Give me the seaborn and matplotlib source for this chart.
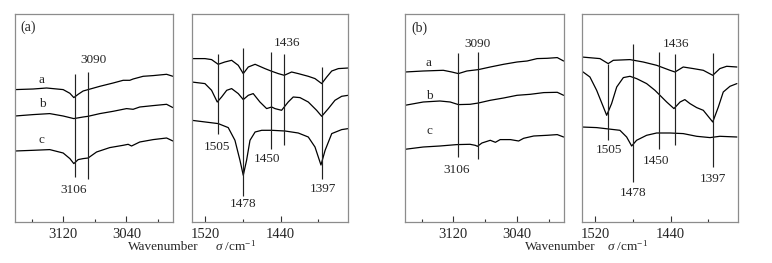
import numpy as np
import pandas as pd
import matplotlib
matplotlib.use("Agg")
import matplotlib.pyplot as plt
from matplotlib.ticker import FixedLocator
import seaborn as sns

sns.set_theme(style="white")
plt.rcParams['font.family'] = ['Liberation Serif', 'DejaVu Serif']
plt.rcParams['mathtext.fontset'] = 'custom'
plt.rcParams['mathtext.rm'] = 'Liberation Serif'
plt.rcParams['mathtext.it'] = 'Liberation Serif:italic'

# ---------------- data (intensity, arbitrary units) ----------------
# Panel (a), C-H stretching region
a_hi_x_a = [3181, 3158, 3141, 3120, 3111.5, 3106.5, 3101, 3094.7, 3088.4, 3073.5, 3056.7, 3044, 3035.6, 3031.4, 3018.7, 3006, 2989, 2981]
a_hi_y_a = [132.7, 133.3, 134.3, 132.7, 129, 124.7, 128, 131.3, 132.7, 136, 139.3, 142, 142, 143.3, 146, 146.7, 148, 146]
a_hi_x_b = [3181, 3158, 3137, 3120, 3106.5, 3094.7, 3088.4, 3073.5, 3056.7, 3039.7, 3031.4, 3023, 3006, 2989, 2981]
a_hi_y_b = [106.3, 107.7, 108.7, 106.3, 103.7, 105.3, 106, 108.7, 111, 113.7, 113, 115.3, 116.7, 118, 114.7]
a_hi_x_c = [3181, 3158, 3137, 3120, 3111.5, 3106.5, 3101, 3094.7, 3088.4, 3077.7, 3061, 3044, 3037.7, 3033.4, 3023, 3006, 2989, 2981]
a_hi_y_c = [71.3, 72, 72.7, 69.3, 63.7, 58.7, 62.7, 63.7, 64.3, 70.3, 74.7, 77, 78, 76.3, 80.3, 82.7, 84.3, 81.3]

# Panel (a), ring region
a_lo_x_a = [1534, 1520, 1513, 1506, 1499, 1491.8, 1484.8, 1479.5, 1474.2, 1467, 1456.6, 1450.2, 1442.5, 1436.2, 1428.4, 1421.4, 1410.8, 1403.7, 1396.6, 1391.3, 1386, 1379, 1368.5]
a_lo_y_a = [163.7, 163.7, 162.7, 158, 160.3, 162, 157, 148.7, 155.3, 158, 153.7, 151.3, 148.7, 147, 150.3, 148.7, 146, 143.7, 138.7, 145.3, 151.3, 153.7, 154.3]
a_lo_x_b = [1534, 1520, 1513, 1507, 1502.4, 1497, 1491.8, 1484.8, 1479.5, 1474.2, 1469, 1461.9, 1454.8, 1449.5, 1446, 1439, 1432, 1426.7, 1419.6, 1410.8, 1402, 1396.6, 1389.6, 1382.6, 1375.5, 1368.5]
a_lo_y_b = [140.3, 138.7, 132, 120.3, 125.3, 132, 133.7, 128.7, 122.7, 127, 128.7, 120.3, 113.7, 115.3, 113.7, 112, 120.3, 125.3, 124.7, 120.3, 112, 106, 113.7, 122, 126, 127]
a_lo_x_c = [1534, 1506, 1495.4, 1488.3, 1483, 1479.5, 1476, 1472.4, 1467, 1460, 1449.5, 1435.4, 1421.4, 1410.8, 1403.7, 1397.4, 1393, 1386, 1375.5, 1368.5]
a_lo_y_c = [102, 98.7, 94.7, 82, 62, 47, 62, 82, 90.3, 92, 92, 91.3, 89.3, 85.3, 75.3, 57.3, 72, 88.7, 92.7, 93.7]

# Panel (b), C-H stretching region
b_hi_x_a = [3181, 3158, 3132.7, 3122, 3113.7, 3103, 3088.4, 3073.5, 3056.7, 3039.7, 3027, 3014.4, 3001.8, 2989, 2981]
b_hi_y_a = [150.3, 151.3, 152, 150.3, 148.7, 151.3, 152.7, 155.3, 158, 160.3, 161.3, 163.7, 164, 164.7, 161.3]
b_hi_x_b = [3181, 3158, 3137, 3124, 3113.7, 3099, 3088.4, 3073.5, 3056.7, 3039.7, 3023, 3006, 2989, 2981]
b_hi_y_b = [117, 120.3, 121.3, 120.3, 117.7, 118, 119.3, 122, 124.3, 127, 128, 129.7, 130, 127]
b_hi_x_c = [3181, 3158, 3137, 3115.7, 3099, 3092.5, 3089.6, 3084, 3073.5, 3067, 3061, 3048, 3037.7, 3031.4, 3018.7, 3001.8, 2989, 2981]
b_hi_y_c = [73, 75.3, 76.3, 77.7, 78, 77, 76, 79.3, 82, 80, 82.7, 82.7, 81.3, 84, 86.3, 87, 87.7, 85.3]

# Panel (b), ring region
b_lo_x_a = [1534, 1514.7, 1506, 1500.6, 1483, 1469, 1454.8, 1440.7, 1435.4, 1426.7, 1416, 1405.5, 1395.5, 1388, 1380.8, 1370]
b_lo_y_a = [165.3, 163.7, 158.7, 162, 162.7, 160.3, 157, 152, 150.3, 155.3, 153.7, 152, 147, 153.7, 156, 155.3]
b_lo_x_b = [1534, 1525.3, 1518.2, 1507.6, 1502.4, 1497, 1490, 1483, 1476, 1465.4, 1456.6, 1451.3, 1444.2, 1436.5, 1430, 1425, 1419.6, 1412.5, 1405.5, 1395.5, 1389.6, 1384.4, 1377.3, 1370]
b_lo_y_b = [151.3, 145.3, 132, 107, 118.7, 135.3, 144.7, 146, 143.7, 138.7, 132, 127, 120.3, 113.7, 120.3, 122.7, 118.7, 114.7, 112, 100.3, 115.3, 130.3, 136, 138.7]
b_lo_x_c = [1534, 1518.2, 1493.6, 1486.5, 1481.2, 1476, 1465.4, 1454.8, 1440.7, 1426.7, 1412.5, 1398.4, 1388, 1370]
b_lo_y_c = [95.3, 94.7, 92, 85.3, 76.3, 82, 87, 89.3, 89.3, 88.7, 86, 84.7, 86, 85.3]

# Marker lines: position, lower end, upper end
a_hi_marks = [3105, 3088]
a_hi_marks_lo = [45.3, 43.7]
a_hi_marks_hi = [148, 150]
b_hi_marks = [3114, 3089]
b_hi_marks_lo = [65.3, 63.7]
b_hi_marks_hi = [169.3, 170.3]
a_lo_marks = [1506, 1479.5, 1450, 1436, 1396.6]
a_lo_marks_lo = [88.7, 26, 73.7, 77, 43.7]
a_lo_marks_hi = [168.7, 174.7, 170.3, 168.7, 155.3]
b_lo_marks = [1506, 1480.1, 1452, 1435.4, 1395.5]
b_lo_marks_lo = [82, 40.3, 73.7, 77, 55.3]
b_lo_marks_hi = [158.7, 178.7, 170.3, 168.7, 169.3]

# Peak labels: text, x, y
a_hi_labels = ["3090", "3106"]
a_hi_label_x = [3082, 3106.5]
a_hi_label_y = [162, 32.7]
b_hi_labels = ["3090", "3106"]
b_hi_label_x = [3089.6, 3115.7]
b_hi_label_y = [178.7, 52]
a_lo_labels = ["1505", "1478", "1450", "1436", "1397"]
a_lo_label_x = [1507.6, 1479.5, 1454.8, 1433.6, 1395.6]
a_lo_label_y = [75.3, 18.7, 63.7, 179.3, 33.7]
b_lo_labels = ["1505", "1478", "1450", "1436", "1397"]
b_lo_label_x = [1504.9, 1479.5, 1455.5, 1434.4, 1395.5]
b_lo_label_y = [72, 29.3, 61.3, 178.7, 43]

curve_names = ["a", "b", "c"]
a_name_x = [3147, 3147, 3147]
a_name_y = [142.7, 118, 82]
b_name_x = [3151.6, 3150.4, 3150.4]
b_name_y = [159.3, 126, 91.3]

hi_major = [3120, 3040]
hi_minor = [3160, 3080, 3000]
lo_major = [1520, 1440]
lo_minor = [1480, 1400]
hi_xlim = (3181, 2980.5)
lo_xlim = (1534, 1368.5)
ylim = (0, 208.3)

# ---------------- figure ----------------
W, H = 772, 263
fig = plt.figure(figsize=(W / 100, H / 100), dpi=100)

def ax_at(left_px, right_px, top_px=14, bottom_px=222.3):
    return fig.add_axes([left_px / W, 1 - bottom_px / H, (right_px - left_px) / W, (bottom_px - top_px) / H])

FS = 9.5
TFS = 10.5
frame_c = "#8c8c8c"

def style(ax, xlim, major, minor):
    ax.set_xlim(*xlim)
    ax.set_ylim(*ylim)
    ax.set_yticks([])
    ax.xaxis.set_major_locator(FixedLocator(major))
    ax.xaxis.set_minor_locator(FixedLocator(minor))
    ax.set_xticklabels([str(v) for v in major])
    ax.tick_params(axis='x', which='major', direction='in', length=4, width=0.8,
                   color='#333333', labelsize=TFS, pad=4, bottom=True, top=False)
    ax.tick_params(axis='x', which='minor', direction='in', length=2.3, width=0.8,
                   color='#333333', bottom=True, top=False)
    for s in ax.spines.values():
        s.set_color(frame_c)
        s.set_linewidth(0.9)
    ax.set_xlabel("")
    ax.set_ylabel("")

def draw(ax, xs, ys, marks, mlo, mhi, labels, lx, ly):
    for x, y in zip(xs, ys):
        df = pd.DataFrame({"wn": x, "I": y})
        sns.lineplot(data=df, x="wn", y="I", ax=ax, color="black", lw=0.9,
                     estimator=None, sort=False)
    ax.vlines(marks, mlo, mhi, colors="#222222", lw=0.85)
    for t, x, y in zip(labels, lx, ly):
        ax.text(x, y, t, ha="center", va="center", fontsize=FS)

ax1 = ax_at(15, 173.3)
ax2 = ax_at(191.7, 348.3)
ax3 = ax_at(405, 564)
ax4 = ax_at(581.7, 738.3)

draw(ax1, [a_hi_x_a, a_hi_x_b, a_hi_x_c], [a_hi_y_a, a_hi_y_b, a_hi_y_c],
     a_hi_marks, a_hi_marks_lo, a_hi_marks_hi, a_hi_labels, a_hi_label_x, a_hi_label_y)
draw(ax2, [a_lo_x_a, a_lo_x_b, a_lo_x_c], [a_lo_y_a, a_lo_y_b, a_lo_y_c],
     a_lo_marks, a_lo_marks_lo, a_lo_marks_hi, a_lo_labels, a_lo_label_x, a_lo_label_y)
draw(ax3, [b_hi_x_a, b_hi_x_b, b_hi_x_c], [b_hi_y_a, b_hi_y_b, b_hi_y_c],
     b_hi_marks, b_hi_marks_lo, b_hi_marks_hi, b_hi_labels, b_hi_label_x, b_hi_label_y)
draw(ax4, [b_lo_x_a, b_lo_x_b, b_lo_x_c], [b_lo_y_a, b_lo_y_b, b_lo_y_c],
     b_lo_marks, b_lo_marks_lo, b_lo_marks_hi, b_lo_labels, b_lo_label_x, b_lo_label_y)

for t, x, y in zip(curve_names, a_name_x, a_name_y):
    ax1.text(x, y, t, ha="center", va="center", fontsize=FS)
for t, x, y in zip(curve_names, b_name_x, b_name_y):
    ax3.text(x, y, t, ha="center", va="center", fontsize=FS)

ax1.text(0.037, 0.936, "(a)", transform=ax1.transAxes, ha="left", va="center", fontsize=FS + 0.5)
ax3.text(0.037, 0.931, "(b)", transform=ax3.transAxes, ha="left", va="center", fontsize=FS + 0.5)

style(ax1, hi_xlim, hi_major, hi_minor)
style(ax2, lo_xlim, lo_major, lo_minor)
style(ax3, hi_xlim, hi_major, hi_minor)
style(ax4, lo_xlim, lo_major, lo_minor)

ylab = 1 - 246.7 / H
fig.text(128 / W, ylab, "Wavenumber", ha="left", va="center", fontsize=FS)
fig.text(215 / W, ylab, r"$\sigma$ /cm$^{-1}$", ha="left", va="center", fontsize=FS)
fig.text(525 / W, ylab, "Wavenumber", ha="left", va="center", fontsize=FS)
fig.text(606.7 / W, ylab, r"$\sigma$ /cm$^{-1}$", ha="left", va="center", fontsize=FS)

fig.savefig("out.png", dpi=100)
